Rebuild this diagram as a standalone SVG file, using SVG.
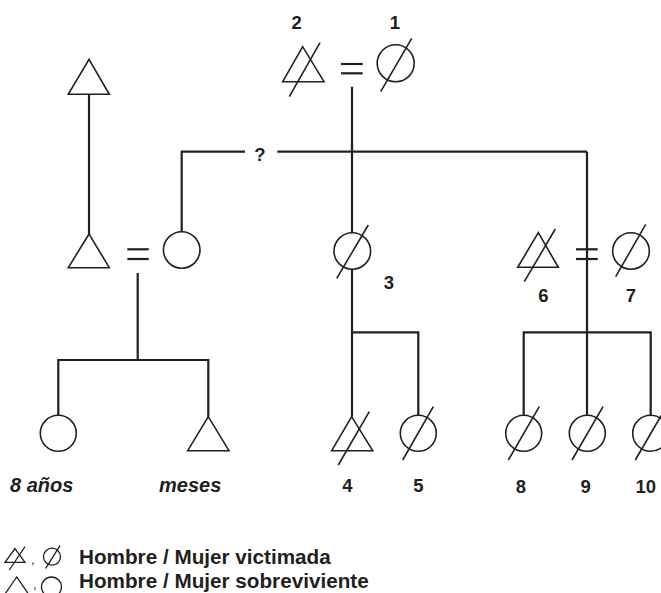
<svg xmlns="http://www.w3.org/2000/svg" width="661" height="593" viewBox="0 0 661 593">
  <style>
    .shape { fill: none; stroke: #231f20; stroke-width: 1.6; }
    .thin { stroke-width: 1.3; }
    .link { fill: none; stroke: #231f20; stroke-width: 2.2; }
    .lbl { font-family: "Liberation Sans", Arial, sans-serif; font-weight: bold; font-size: 18.5px; fill: #231f20; }
    .it { font-style: italic; font-size: 20px; }
    .mid { text-anchor: middle; }
    .leg { font-family: "Liberation Sans", Arial, sans-serif; font-weight: bold; font-size: 20.7px; fill: #231f20; }
    .comma { font-family: "Liberation Sans", Arial, sans-serif; font-size: 13px; fill: #231f20; }
  </style>
  <rect width="661" height="593" fill="#ffffff"/>

  <!-- connectors -->
  <g id="connectors">
    <!-- left grandfather to left father -->
    <line class="link" x1="89" y1="94.3" x2="89" y2="234"/>
    <!-- left couple -->
    <line class="link" x1="127.3" y1="249.3" x2="148.7" y2="249.3"/>
    <line class="link" x1="127.3" y1="259" x2="148.7" y2="259"/>
    <polyline class="link" points="137.7,273 137.7,360"/>
    <polyline class="link" points="58.3,415 58.3,360 208.3,360 208.3,416.7"/>
    <!-- uncertain link -->
    <polyline class="link" points="181.7,231.7 181.7,151.7 245,151.7"/>
    <line class="link" x1="277.3" y1="151.7" x2="587" y2="151.7"/>
    <!-- top couple -->
    <line class="link" x1="341" y1="64" x2="362.7" y2="64"/>
    <line class="link" x1="341" y1="73.3" x2="362.7" y2="73.3"/>
    <line class="link" x1="352" y1="86.7" x2="352" y2="232.7"/>
    <line class="link" x1="352" y1="269.3" x2="352" y2="416.7"/>
    <polyline class="link" points="352,332.3 418.3,332.3 418.3,415"/>
    <!-- right couple -->
    <line class="link" x1="587" y1="151.7" x2="587" y2="415"/>
    <line class="link" x1="576" y1="249.3" x2="597.7" y2="249.3"/>
    <line class="link" x1="576" y1="259" x2="597.7" y2="259"/>
    <polyline class="link" points="523.7,415 523.7,332.3 650.7,332.3 650.7,415"/>
  </g>

  <!-- nodes -->
  <g id="n2">
    <polygon class="shape" points="302.7,46.7 282.7,81.7 324,81.7"/>
    <line class="shape" x1="320" y1="42.7" x2="289.3" y2="96.7"/>
    <text class="lbl mid" x="296.7" y="29.3">2</text>
  </g>
  <g id="n1">
    <circle class="shape" cx="395.7" cy="63.3" r="18.5"/>
    <line class="shape" x1="411.7" y1="38.3" x2="380.7" y2="91.7"/>
    <text class="lbl mid" x="395" y="29.3">1</text>
  </g>
  <g id="grandfather">
    <polygon class="shape" points="89,59.3 68.3,94.3 109.3,94.3"/>
  </g>
  <g id="father">
    <polygon class="shape" points="89,234 68.3,267.7 109.3,267.7"/>
  </g>
  <g id="mother">
    <circle class="shape" cx="181.7" cy="250" r="18.3"/>
  </g>
  <g id="uncertain">
    <text class="lbl mid" x="260" y="160.7" font-size="19">?</text>
  </g>
  <g id="n3">
    <circle class="shape" cx="352.3" cy="251" r="18.3"/>
    <line class="shape" x1="368.3" y1="225" x2="336.7" y2="278.3"/>
    <text class="lbl mid" x="389" y="289">3</text>
  </g>
  <g id="n6">
    <polygon class="shape" points="538.3,232.7 517.7,267.3 558.3,267.3"/>
    <line class="shape" x1="555.3" y1="229" x2="524.3" y2="281.7"/>
    <text class="lbl mid" x="543.3" y="302">6</text>
  </g>
  <g id="n7">
    <circle class="shape" cx="631" cy="251" r="18.3"/>
    <line class="shape" x1="645.7" y1="224.3" x2="615.7" y2="276.7"/>
    <text class="lbl mid" x="631" y="302">7</text>
  </g>
  <g id="daughter">
    <circle class="shape" cx="58.3" cy="433.3" r="18"/>
    <text class="lbl it" x="10" y="492.3">8 años</text>
  </g>
  <g id="son">
    <polygon class="shape" points="208.3,416.7 187.7,450.7 229,450.7"/>
    <text class="lbl it" x="159" y="492.3">meses</text>
  </g>
  <g id="n4">
    <polygon class="shape" points="351.7,416.7 331.7,450.7 372.7,450.7"/>
    <line class="shape" x1="369.3" y1="411.7" x2="338.3" y2="465"/>
    <text class="lbl mid" x="347.3" y="491.7">4</text>
  </g>
  <g id="n5">
    <circle class="shape" cx="418.3" cy="433.3" r="18"/>
    <line class="shape" x1="433.3" y1="406.7" x2="402.7" y2="460"/>
    <text class="lbl mid" x="418.3" y="491.7">5</text>
  </g>
  <g id="n8">
    <circle class="shape" cx="523.7" cy="433.3" r="18"/>
    <line class="shape" x1="539.3" y1="406.7" x2="508.3" y2="460"/>
    <text class="lbl mid" x="521" y="493.3">8</text>
  </g>
  <g id="n9">
    <circle class="shape" cx="587.3" cy="433.3" r="18"/>
    <line class="shape" x1="603" y1="406.7" x2="572" y2="460"/>
    <text class="lbl mid" x="585.7" y="493.3">9</text>
  </g>
  <g id="n10">
    <circle class="shape" cx="650.7" cy="433.3" r="18"/>
    <line class="shape" x1="666.3" y1="406.7" x2="635.3" y2="460"/>
    <text class="lbl mid" x="645.7" y="493.3">10</text>
  </g>

  <!-- legend -->
  <g id="legend">
    <polygon class="shape thin" points="15,548.5 5,562.3 25,562.3"/>
    <line class="shape thin" x1="25" y1="546.7" x2="9.3" y2="570"/>
    <text class="comma" x="31" y="564">,</text>
    <circle class="shape thin" cx="52" cy="556.7" r="8.5"/>
    <line class="shape thin" x1="60" y1="545.7" x2="45.7" y2="568.3"/>
    <text class="leg" x="79" y="564.3">Hombre / Mujer victimada</text>

    <polygon class="shape thin" points="16.7,577 5,594 28.4,594"/>
    <text class="comma" x="33" y="588.5">,</text>
    <circle class="shape thin" cx="51.5" cy="587" r="10"/>
    <text class="leg" x="79" y="588.3">Hombre / Mujer sobreviviente</text>
  </g>
</svg>
